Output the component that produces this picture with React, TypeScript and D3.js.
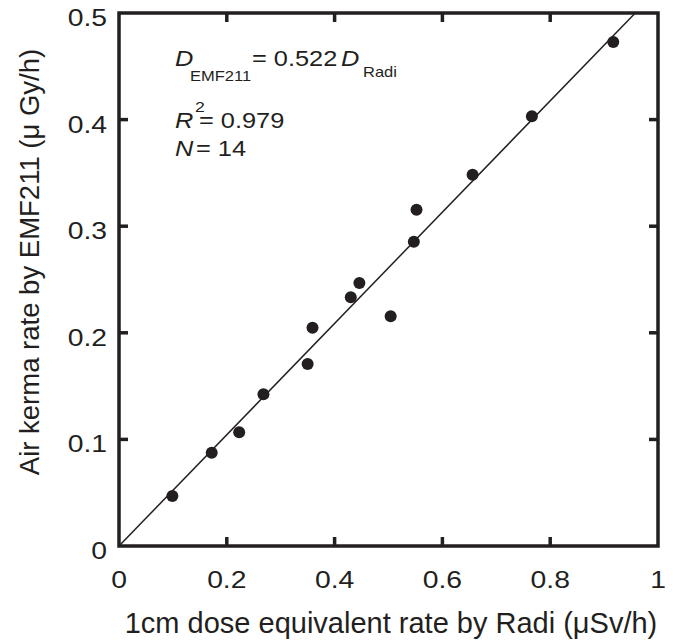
import React from "react";
import * as d3 from "d3";

const radiValues = [0.099, 0.172, 0.223, 0.268, 0.35, 0.359, 0.43, 0.446, 0.504, 0.547, 0.552, 0.656, 0.766, 0.917];
const emfValues = [0.047, 0.0875, 0.1066, 0.1423, 0.1707, 0.2048, 0.2333, 0.2467, 0.2155, 0.2855, 0.3155, 0.3483, 0.4031, 0.4728];
const xTicks = [0, 0.2, 0.4, 0.6, 0.8, 1];
const yTicks = [0, 0.1, 0.2, 0.3, 0.4, 0.5];
const slope = 0.522;

const W = 673;
const H = 642;
const L = 119, R = 658, T = 13, B = 546;
const INK = "#231f20";
const FONT = "'Liberation Sans', Arial, Helvetica, sans-serif";
const SX = 1.18;

function WideText(props: {
  x: number; y: number; size: number; anchor?: string; italic?: boolean; children: React.ReactNode;
}) {
  const { x, y, size, anchor, italic, children } = props;
  return (
    <text
      transform={`translate(${x},${y}) scale(${SX},1)`}
      fontSize={size}
      textAnchor={anchor || "start"}
      fontStyle={italic ? "italic" : "normal"}
      fill={INK}
    >
      {children}
    </text>
  );
}

export default function App() {
  const x = d3.scaleLinear().domain([0, 1]).range([L, R]);
  const y = d3.scaleLinear().domain([0, 0.5]).range([B, T]);
  const xEnd = 0.5 / slope;
  const fitLine = d3.line<number>().x((d) => x(d)).y((d) => y(d * slope))([0, xEnd]) || "";
  const tickLen = 9;
  const inner = (v: number, arr: number[]) => v !== arr[0] && v !== arr[arr.length - 1];
  const fmt = d3.format("~g");

  return (
    <svg width={W} height={H} style={{ position: "absolute", left: 0, top: 0, background: "#fff" }} fontFamily={FONT}>
      <rect x={0} y={0} width={W} height={H} fill="#fff" />
      {/* fit line */}
      <path d={fitLine} stroke={INK} strokeWidth={1.5} fill="none" />
      {/* points */}
      {radiValues.map((v, i) => (
        <circle key={i} cx={x(v)} cy={y(emfValues[i])} r={6} fill={INK} />
      ))}
      {/* frame */}
      <rect x={L} y={T} width={R - L} height={B - T} fill="none" stroke={INK} strokeWidth={3.5} />
      {/* ticks */}
      {xTicks.filter((v) => inner(v, xTicks)).map((v) => (
        <g key={"xt" + v}>
          <line x1={x(v)} x2={x(v)} y1={B} y2={B - tickLen} stroke={INK} strokeWidth={3.5} />
          <line x1={x(v)} x2={x(v)} y1={T} y2={T + tickLen} stroke={INK} strokeWidth={3.5} />
        </g>
      ))}
      {yTicks.filter((v) => inner(v, yTicks)).map((v) => (
        <g key={"yt" + v}>
          <line x1={L} x2={L + tickLen} y1={y(v)} y2={y(v)} stroke={INK} strokeWidth={3.5} />
          <line x1={R} x2={R - tickLen} y1={y(v)} y2={y(v)} stroke={INK} strokeWidth={3.5} />
        </g>
      ))}
      {/* tick labels */}
      {xTicks.map((v) => (
        <WideText key={"xl" + v} x={x(v)} y={588} size={24} anchor="middle">
          {fmt(v)}
        </WideText>
      ))}
      {yTicks.map((v) => (
        <WideText key={"yl" + v} x={107} y={y(v) + 13} size={24} anchor="end">
          {fmt(v)}
        </WideText>
      ))}
      {/* axis titles */}
      <text x={391} y={633} textAnchor="middle" fontSize={29} fill={INK}>
        1cm dose equivalent rate by Radi (μSv/h)
      </text>
      <text transform="translate(39,262) rotate(-90)" textAnchor="middle" fontSize={27.5} fill={INK}>
        Air kerma rate by EMF211 (μ Gy/h)
      </text>
      {/* annotation */}
      <WideText x={175} y={66} size={21.5} italic>D</WideText>
      <WideText x={190} y={81} size={14}>EMF211</WideText>
      <WideText x={252} y={66} size={21.5}>= 0.522</WideText>
      <WideText x={341} y={66} size={21.5} italic>D</WideText>
      <WideText x={363} y={76.5} size={14}>Radi</WideText>
      <WideText x={175} y={128} size={21.5} italic>R</WideText>
      <WideText x={195} y={112} size={15}>2</WideText>
      <WideText x={199} y={128} size={21.5}>= 0.979</WideText>
      <WideText x={175} y={156} size={21.5} italic>N</WideText>
      <WideText x={196} y={156} size={21.5}>= 14</WideText>
    </svg>
  );
}
